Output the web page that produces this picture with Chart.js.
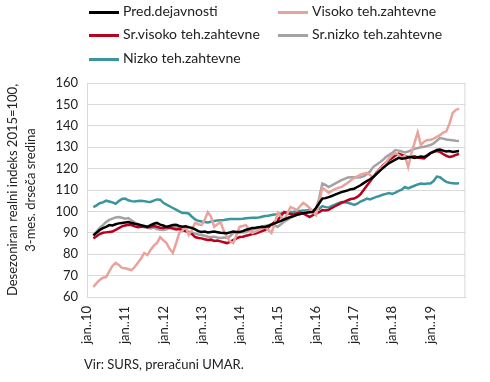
<!DOCTYPE html>
<html>
<head>
<meta charset="utf-8">
<script src="https://cdn.jsdelivr.net/npm/chart.js@4/dist/chart.umd.min.js"></script>
<style>
  html, body { margin: 0; padding: 0; background: #fff; }
  #wrap { position: relative; width: 490px; height: 382px; font-family: Lato, "Open Sans", sans-serif; color: #222; }
  canvas { position: absolute; left: 0; top: 0; }
  .leg { position: absolute; font-size: 14px; line-height: 16px; white-space: nowrap; }
  .leg .sw { position: absolute; left: 0; top: 7px; width: 30px; height: 2.5px; }
  .leg .tx { position: absolute; left: 34px; top: -1px; }
  #src { position: absolute; left: 84px; top: 356px; font-size: 13px; white-space: nowrap; }
</style>
</head>
<body>
<div id="wrap">
  <canvas id="c" width="490" height="382"></canvas>
  <div id="legend"></div>
  <div id="src">Vir: SURS, preračuni UMAR.</div>
</div>
<script>
// ---- data (monthly, Jan 2010 .. Dec 2019; 3-month moving averages) ----
const years = [2010, 2011, 2012, 2013, 2014, 2015, 2016, 2017, 2018, 2019];
const monthNames = ["jan", "feb", "mar", "apr", "maj", "jun", "jul", "avg", "sep", "okt", "nov", "dec"];
const seriesNames = ["Pred.dejavnosti", "Visoko teh.zahtevne", "Sr.visoko teh.zahtevne", "Sr.nizko teh.zahtevne", "Nizko teh.zahtevne"];
const yTicks = [60, 70, 80, 90, 100, 110, 120, 130, 140, 150, 160];

const predDejavnosti = [
  null, null, 88.8, 90.0, 91.3, 92.2, 92.8, 93.6, 93.4, 94.0, 94.4, 94.6,
  94.8, 95.0, 94.6, 94.2, 94.0, 93.6, 93.2, 92.8, 93.6, 94.2, 94.6, 93.8,
  93.4, 92.8, 93.2, 93.6, 93.8, 93.2, 92.8, 93.0, 92.6, 92.3, 91.6, 90.8,
  90.4, 90.6, 90.2, 90.4, 90.6, 90.3, 90.0, 89.9, 89.8, 90.2, 90.6, 90.4,
  90.4, 90.8, 91.4, 91.8, 92.3, 92.4, 92.6, 92.8, 92.7, 93.2, 93.8, 94.4,
  95.0, 95.6, 96.2, 96.8, 97.4, 97.8, 98.4, 98.8, 99.2, 99.4, 99.6, 99.7,
  101.6, 103.8, 106.0, 106.2, 106.7, 107.2, 107.8, 108.4, 109.0, 109.4, 109.8, 110.4,
  110.6, 111.4, 112.2, 113.2, 114.2, 115.0, 116.0, 117.4, 118.8, 120.2, 121.4, 122.6,
  123.4, 124.2, 125.0, 124.6, 124.8, 125.2, 125.4, 125.0, 125.3, 125.6, 125.4, 126.2,
  127.2, 127.8, 128.7, 128.9, 128.4, 128.0, 128.2, 127.8, 128.0, 128.2, null, null
];
const visoko = [
  null, null, 64.7, 66.5, 68.0, 69.0, 69.3, 72.0, 74.5, 76.0, 75.0, 73.6,
  73.4, 73.0, 72.6, 74.0, 76.0, 78.0, 80.6, 79.6, 82.0, 84.0, 85.2, 88.0,
  86.5, 85.2, 82.5, 80.6, 85.0, 89.9, 91.0, 92.8, 89.0, 91.5, 94.6, 94.0,
  93.6, 96.0, 99.7, 97.5, 92.8, 94.0, 95.0, 91.0, 88.0, 86.0, 85.2, 89.0,
  92.8, 93.2, 93.6, 91.5, 89.9, 90.6, 91.3, 92.0, 92.8, 91.3, 89.9, 94.0,
  99.3, 97.6, 96.0, 99.0, 102.0, 101.4, 100.6, 102.4, 104.0, 103.0, 101.6, 100.0,
  98.3, 104.0, 111.0, 110.0, 108.6, 109.6, 110.4, 111.0, 111.4, 112.4, 113.4, 114.6,
  115.6, 116.4, 117.2, 117.6, 118.0, 117.0, 116.0, 117.6, 119.6, 121.0, 123.0, 124.8,
  126.4, 127.2, 126.4, 125.0, 126.0, 120.7, 127.0, 132.0, 137.0, 131.0, 132.6, 133.4,
  133.4, 134.0, 134.8, 135.6, 136.8, 137.4, 141.0, 146.0, 147.4, 148.0, null, null
];
const srVisoko = [
  null, null, 87.4, 88.4, 89.4, 90.0, 90.2, 90.4, 90.6, 91.4, 92.2, 93.0,
  93.4, 93.8, 93.6, 93.0, 92.6, 92.8, 93.0, 92.6, 92.8, 93.2, 92.8, 92.4,
  92.2, 92.6, 92.3, 92.0, 91.6, 91.8, 91.3, 90.8, 90.2, 89.4, 88.0, 87.6,
  87.4, 87.0, 86.6, 86.8, 86.2, 86.4, 86.0, 85.6, 85.2, 85.8, 86.6, 87.4,
  88.0, 88.2, 88.6, 89.0, 89.4, 89.6, 90.2, 90.8, 91.3, 92.4, 93.8, 95.0,
  96.0, 98.0, 99.7, 99.2, 98.8, 98.6, 99.0, 99.3, 99.0, 98.2, 97.4, 98.2,
  99.0, 99.6, 100.6, 100.4, 100.7, 101.6, 102.4, 103.2, 104.0, 104.6, 105.2, 105.8,
  106.0, 106.8, 108.0, 110.0, 112.0, 114.0, 116.0, 118.0, 119.8, 121.4, 122.8, 124.0,
  125.0, 126.2, 127.0, 126.4, 125.8, 125.4, 125.6, 125.8, 125.2, 125.0, 124.8, 126.0,
  127.2, 128.0, 128.2, 127.8, 126.8, 126.0, 125.4, 125.8, 126.4, 126.8, null, null
];
const srNizko = [
  null, null, 88.8, 90.6, 92.3, 93.6, 95.0, 96.0, 96.6, 97.2, 97.4, 97.0,
  96.6, 96.9, 95.8, 94.8, 93.6, 93.0, 92.6, 92.3, 92.0, 92.4, 91.8, 91.4,
  91.3, 91.6, 92.2, 92.6, 92.8, 92.2, 91.4, 91.0, 90.4, 90.2, 89.6, 89.2,
  89.0, 88.6, 88.2, 88.0, 88.2, 87.8, 87.6, 87.8, 87.6, 88.4, 90.0, 90.2,
  90.4, 90.2, 90.4, 91.0, 91.4, 92.0, 92.3, 92.8, 93.2, 93.6, 94.0, 93.4,
  92.8, 94.0, 95.2, 96.0, 97.0, 97.8, 98.4, 98.8, 99.3, 99.8, 100.2, 100.6,
  101.0, 106.0, 113.0, 112.4, 111.4, 112.2, 113.0, 113.8, 114.6, 115.2, 115.8, 116.0,
  116.0, 115.8, 116.0, 116.4, 117.4, 118.6, 120.7, 121.8, 122.8, 124.0, 125.4, 126.4,
  127.4, 128.7, 128.4, 128.0, 127.6, 128.0, 128.6, 129.2, 129.6, 130.0, 130.2, 130.6,
  131.0, 131.8, 133.0, 134.3, 134.0, 133.6, 133.4, 133.2, 133.0, 132.9, null, null
];
const nizko = [
  null, null, 102.0, 102.8, 103.8, 104.2, 105.0, 104.6, 104.2, 103.6, 104.8, 105.8,
  106.0, 105.2, 104.8, 104.6, 104.9, 105.0, 104.8, 104.5, 104.4, 105.0, 105.6, 105.5,
  104.0, 103.2, 102.4, 101.6, 100.8, 100.0, 99.3, 99.2, 99.0, 97.5, 96.3, 95.6,
  95.3, 95.0, 94.8, 95.2, 95.5, 95.8, 95.9, 96.0, 96.2, 96.4, 96.4, 96.5,
  96.5, 96.6, 96.8, 96.9, 97.0, 97.0, 97.2, 97.5, 97.8, 98.0, 98.3, 98.5,
  98.8, 99.0, 99.3, 99.5, 99.7, 99.8, 100.0, 100.2, 100.4, 100.4, 100.6, 100.5,
  100.6, 101.2, 102.5, 102.0, 101.8, 102.6, 103.2, 103.8, 104.4, 104.3, 104.0, 103.6,
  103.0, 103.6, 104.6, 105.2, 106.0, 105.6, 106.2, 106.8, 107.2, 107.8, 108.2, 108.6,
  108.2, 108.8, 109.6, 110.2, 111.4, 110.8, 111.4, 112.0, 112.6, 113.0, 112.8, 113.0,
  113.0, 114.2, 116.3, 116.0, 114.8, 113.8, 113.4, 113.2, 113.0, 113.1, null, null
];

const seriesData = [predDejavnosti, visoko, srVisoko, srNizko, nizko];
const seriesColors = ["#000000", "#e8a39d", "#b8001f", "#a3a3a3", "#3a969c"];

// category labels
const labels = [];
years.forEach(y => monthNames.forEach(m => labels.push(m + ".." + String(y).slice(2))));

// ---- HTML legend (two columns) ----
const legPos = [[89, 4], [278, 4], [89, 27], [278, 27], [89, 51]];
const legEl = document.getElementById('legend');
seriesNames.forEach((n, i) => {
  const d = document.createElement('div');
  d.className = 'leg';
  d.style.left = legPos[i][0] + 'px';
  d.style.top = legPos[i][1] + 'px';
  d.innerHTML = '<div class="sw" style="background:' + seriesColors[i] + '"></div><div class="tx">' + n + '</div>';
  legEl.appendChild(d);
});

const boxPlugin = {
  id: 'box',
  afterDraw(chart) {
    const a = chart.chartArea, ctx = chart.ctx;
    ctx.save();
    ctx.strokeStyle = '#d9d9d9';
    ctx.lineWidth = 1;
    ctx.strokeRect(a.left + 0.5, a.top + 0.5, a.right - a.left - 1, a.bottom - a.top);
    ctx.restore();
  }
};

const font = "Lato, 'Open Sans', sans-serif";
new Chart(document.getElementById('c'), {
  type: 'line',
  data: {
    labels: labels,
    datasets: seriesNames.map((n, i) => ({
      label: n,
      data: seriesData[i],
      borderColor: seriesColors[i],
      backgroundColor: seriesColors[i],
      borderWidth: 2.5,
      pointRadius: 0,
      tension: 0,
      spanGaps: false
    }))
  },
  options: {
    responsive: false,
    animation: false,
    layout: { padding: { top: 83, right: 7, bottom: 35, left: 0 } },
    plugins: { legend: { display: false }, tooltip: { enabled: false } },
    scales: {
      x: {
        offset: false,
        grid: { display: false, drawTicks: false },
        border: { display: true, color: '#bfbfbf' },
        ticks: {
          autoSkip: false,
          maxRotation: 90,
          minRotation: 90,
          padding: 9,
          color: '#222',
          font: { family: font, size: 13 },
          callback: function (v, i) { return i % 12 === 0 ? labels[i] : ''; }
        },
        afterFit: s => { s.height = 50; }
      },
      y: {
        min: 60,
        max: 160,
        afterBuildTicks: s => { s.ticks = yTicks.map(v => ({ value: v })); },
        grid: { color: '#d9d9d9', drawTicks: false },
        border: { display: true, color: '#d9d9d9' },
        ticks: { padding: 9, color: '#222', font: { family: font, size: 13 } },
        title: {
          display: true,
          text: ['Desezoniran realni indeks 2015=100,', '3-mes. drseča sredina'],
          color: '#222',
          font: { family: font, size: 13, lineHeight: 1.45 },
          padding: { top: 3, bottom: 0 }
        },
        afterFit: s => { s.width = 87; }
      }
    }
  },
  plugins: [boxPlugin]
});
</script>
</body>
</html>
